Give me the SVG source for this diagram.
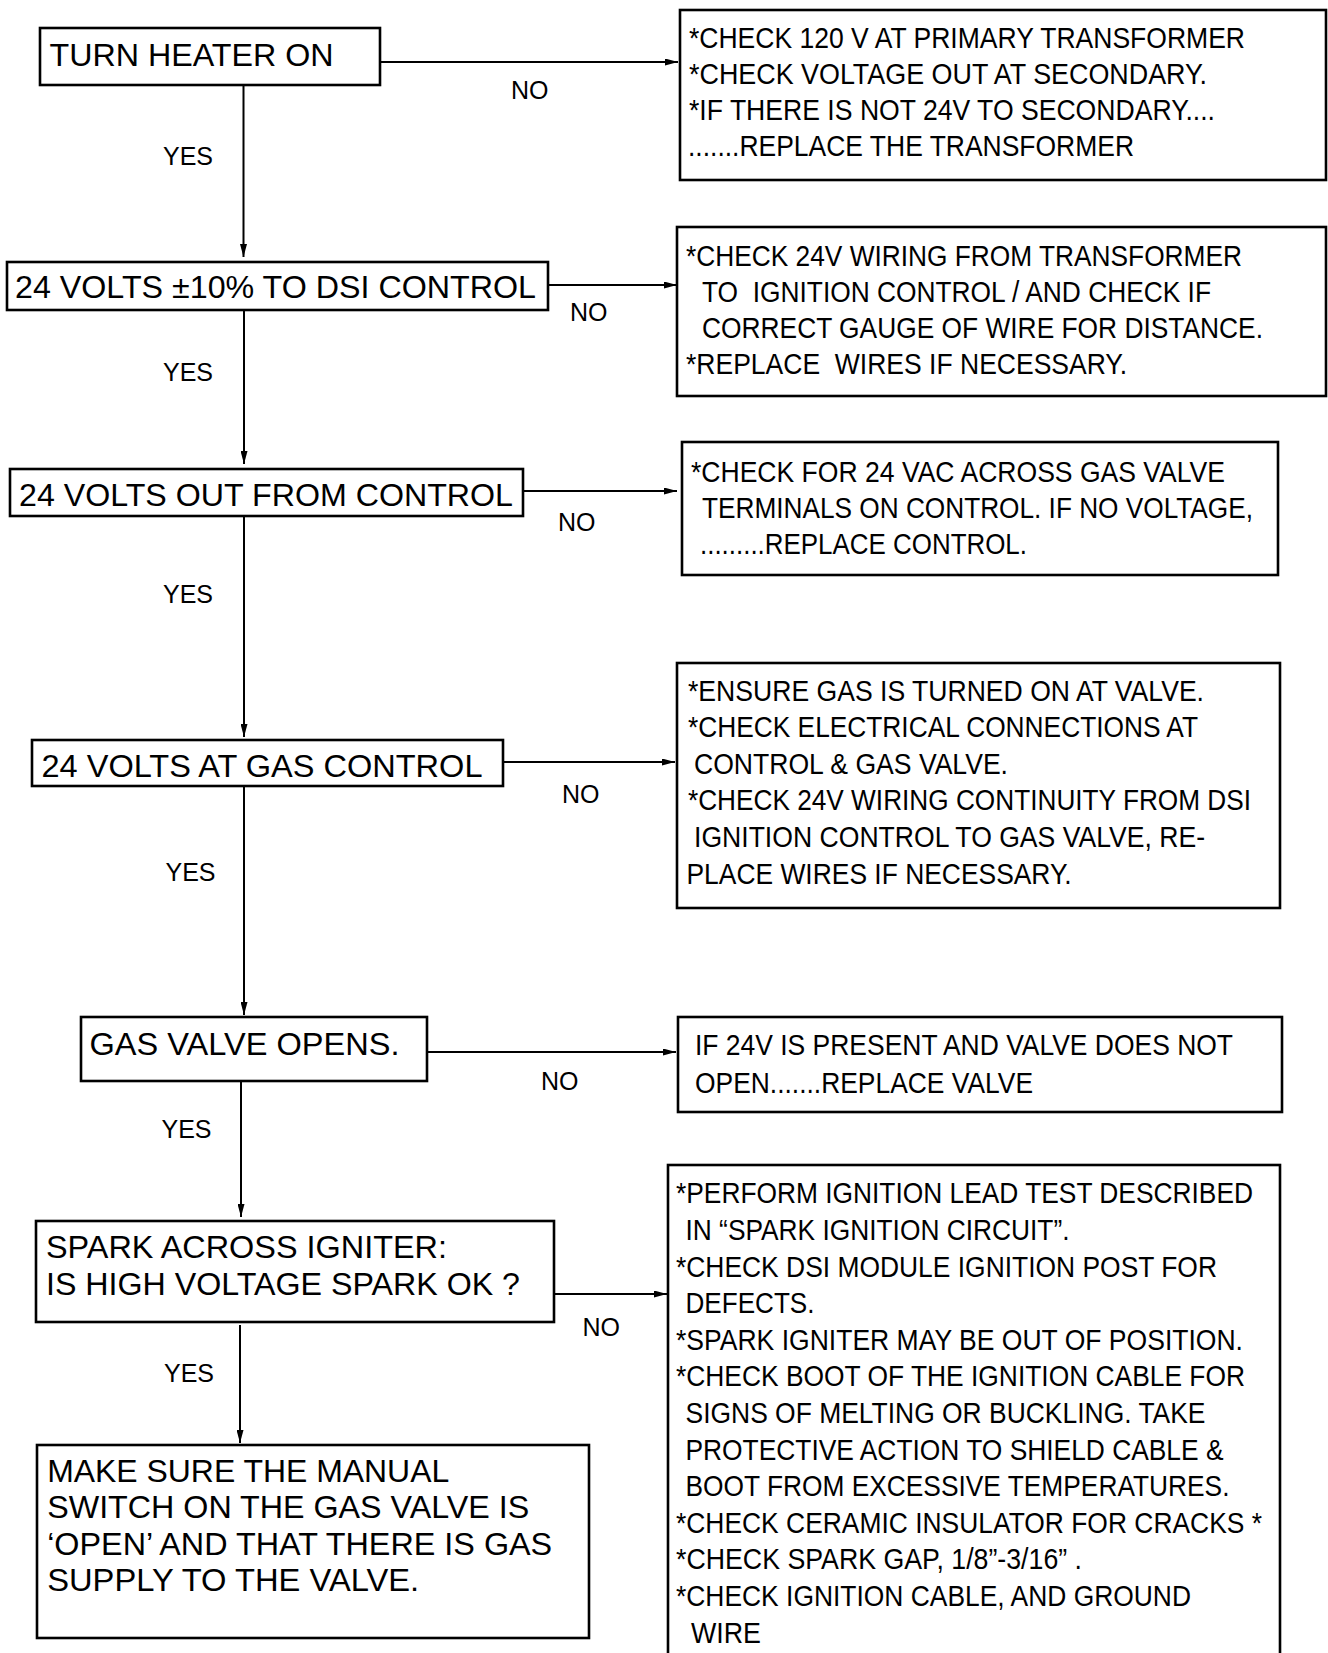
<svg xmlns="http://www.w3.org/2000/svg" width="1328" height="1653" viewBox="0 0 1328 1653">
<defs>
<marker id="ah" markerUnits="userSpaceOnUse" markerWidth="13" markerHeight="7" refX="13" refY="3.5" orient="auto">
<path d="M0,0 L13,3.5 L0,7 z" fill="#000"/>
</marker>
<style>
rect{fill:#fff;stroke:#000;stroke-width:2.6}
text{font-family:"Liberation Sans",Arial,sans-serif;fill:#000}
.m{font-size:30.5px}
.r{font-size:30px}
.l{font-size:25px}
#connectors line{stroke:#000;stroke-width:2;marker-end:url(#ah)}
</style>
</defs>
<rect x="0" y="0" width="1328" height="1653" style="fill:#fff;stroke:none"/>
<g id="connectors">
<line x1="243.5" y1="85" x2="243.5" y2="257"/>
<line x1="380" y1="62" x2="678" y2="62"/>
<line x1="244" y1="310" x2="244" y2="464"/>
<line x1="548" y1="285" x2="677" y2="285"/>
<line x1="244" y1="516" x2="244" y2="737"/>
<line x1="523" y1="491" x2="677" y2="491"/>
<line x1="244" y1="786" x2="244" y2="1015"/>
<line x1="503" y1="762" x2="675" y2="762"/>
<line x1="241" y1="1081" x2="241" y2="1217"/>
<line x1="427" y1="1052" x2="676" y2="1052"/>
<line x1="554" y1="1294" x2="667" y2="1294"/>
<line x1="240" y1="1325" x2="240" y2="1443"/>
<text class="l" x="511" y="99">NO</text>
<text class="l" x="163" y="165">YES</text>
<text class="l" x="570" y="321">NO</text>
<text class="l" x="163" y="381">YES</text>
<text class="l" x="558" y="531">NO</text>
<text class="l" x="163" y="603">YES</text>
<text class="l" x="562" y="803">NO</text>
<text class="l" x="165.5" y="881">YES</text>
<text class="l" x="541" y="1090">NO</text>
<text class="l" x="161.5" y="1138">YES</text>
<text class="l" x="582.5" y="1336">NO</text>
<text class="l" x="164" y="1381.5">YES</text>
</g>
<g id="n1">
<rect x="40" y="28" width="340" height="57"/>
<text class="m" x="49.5" y="66" textLength="284" lengthAdjust="spacingAndGlyphs">TURN HEATER ON</text>
</g>
<g id="n2">
<rect x="7" y="262" width="541" height="48"/>
<text class="m" x="15" y="298" textLength="521" lengthAdjust="spacingAndGlyphs">24 VOLTS ±10% TO DSI CONTROL</text>
</g>
<g id="n3">
<rect x="10" y="469" width="513" height="47"/>
<text class="m" x="19" y="506" textLength="494" lengthAdjust="spacingAndGlyphs">24 VOLTS OUT FROM CONTROL</text>
</g>
<g id="n4">
<rect x="32" y="740" width="471" height="46"/>
<text class="m" x="41.5" y="777" textLength="441" lengthAdjust="spacingAndGlyphs">24 VOLTS AT GAS CONTROL</text>
</g>
<g id="n5">
<rect x="81" y="1017" width="346" height="64"/>
<text class="m" x="89.5" y="1055" textLength="310" lengthAdjust="spacingAndGlyphs">GAS VALVE OPENS.</text>
</g>
<g id="n6">
<rect x="36" y="1221" width="518" height="101"/>
<text class="m" x="46" y="1258" textLength="401" lengthAdjust="spacingAndGlyphs">SPARK ACROSS IGNITER:</text>
<text class="m" x="46" y="1295" textLength="474" lengthAdjust="spacingAndGlyphs">IS HIGH VOLTAGE SPARK OK ?</text>
</g>
<g id="n7">
<rect x="37" y="1445" width="552" height="193"/>
<text class="m" x="47.2" y="1481.5" textLength="402" lengthAdjust="spacingAndGlyphs">MAKE SURE THE MANUAL</text>
<text class="m" x="47.2" y="1518" textLength="482" lengthAdjust="spacingAndGlyphs">SWITCH ON THE GAS VALVE IS</text>
<text class="m" x="47.2" y="1554.5" textLength="505" lengthAdjust="spacingAndGlyphs">‘OPEN’ AND THAT THERE IS GAS</text>
<text class="m" x="47.2" y="1591" textLength="372" lengthAdjust="spacingAndGlyphs">SUPPLY TO THE VALVE.</text>
</g>
<g id="r1">
<rect x="680" y="10" width="646" height="170"/>
<text class="r" x="689" y="48" textLength="556" lengthAdjust="spacingAndGlyphs">*CHECK 120 V AT PRIMARY TRANSFORMER</text>
<text class="r" x="689" y="84" textLength="518" lengthAdjust="spacingAndGlyphs">*CHECK VOLTAGE OUT AT SECONDARY.</text>
<text class="r" x="689" y="120" textLength="526" lengthAdjust="spacingAndGlyphs">*IF THERE IS NOT 24V TO SECONDARY....</text>
<text class="r" x="688" y="156" textLength="446" lengthAdjust="spacingAndGlyphs">.......REPLACE THE TRANSFORMER</text>
</g>
<g id="r2">
<rect x="677" y="227" width="649" height="169"/>
<text class="r" x="686" y="266" textLength="556" lengthAdjust="spacingAndGlyphs">*CHECK 24V WIRING FROM TRANSFORMER</text>
<text class="r" x="702" y="302" textLength="509" lengthAdjust="spacingAndGlyphs" xml:space="preserve">TO  IGNITION CONTROL / AND CHECK IF</text>
<text class="r" x="702" y="338" textLength="561" lengthAdjust="spacingAndGlyphs">CORRECT GAUGE OF WIRE FOR DISTANCE.</text>
<text class="r" x="686" y="374" textLength="441" lengthAdjust="spacingAndGlyphs" xml:space="preserve">*REPLACE  WIRES IF NECESSARY.</text>
</g>
<g id="r3">
<rect x="682" y="442" width="596" height="133"/>
<text class="r" x="691" y="482" textLength="534" lengthAdjust="spacingAndGlyphs">*CHECK FOR 24 VAC ACROSS GAS VALVE</text>
<text class="r" x="702" y="518" textLength="551" lengthAdjust="spacingAndGlyphs">TERMINALS ON CONTROL. IF NO VOLTAGE,</text>
<text class="r" x="700" y="554" textLength="327" lengthAdjust="spacingAndGlyphs">.........REPLACE CONTROL.</text>
</g>
<g id="r4">
<rect x="677" y="663" width="603" height="245"/>
<text class="r" x="688" y="700.5" textLength="516" lengthAdjust="spacingAndGlyphs">*ENSURE GAS IS TURNED ON AT VALVE.</text>
<text class="r" x="688" y="737" textLength="510" lengthAdjust="spacingAndGlyphs">*CHECK ELECTRICAL CONNECTIONS AT</text>
<text class="r" x="694" y="773.7" textLength="314" lengthAdjust="spacingAndGlyphs">CONTROL &amp; GAS VALVE.</text>
<text class="r" x="688" y="810.3" textLength="563" lengthAdjust="spacingAndGlyphs">*CHECK 24V WIRING CONTINUITY FROM DSI</text>
<text class="r" x="694" y="847" textLength="511" lengthAdjust="spacingAndGlyphs">IGNITION CONTROL TO GAS VALVE, RE-</text>
<text class="r" x="686.5" y="883.5" textLength="385" lengthAdjust="spacingAndGlyphs">PLACE WIRES IF NECESSARY.</text>
</g>
<g id="r5">
<rect x="678" y="1017" width="604" height="95"/>
<text class="r" x="695" y="1055" textLength="538" lengthAdjust="spacingAndGlyphs">IF 24V IS PRESENT AND VALVE DOES NOT</text>
<text class="r" x="695" y="1092.5" textLength="338" lengthAdjust="spacingAndGlyphs">OPEN.......REPLACE VALVE</text>
</g>
<g id="r6">
<rect x="668" y="1165" width="612" height="500"/>
<text class="r" x="676" y="1203.3" textLength="577" lengthAdjust="spacingAndGlyphs">*PERFORM IGNITION LEAD TEST DESCRIBED</text>
<text class="r" x="685.5" y="1239.9" textLength="384" lengthAdjust="spacingAndGlyphs">IN “SPARK IGNITION CIRCUIT”.</text>
<text class="r" x="676" y="1276.5" textLength="541" lengthAdjust="spacingAndGlyphs">*CHECK DSI MODULE IGNITION POST FOR</text>
<text class="r" x="685.5" y="1313.1" textLength="129" lengthAdjust="spacingAndGlyphs">DEFECTS.</text>
<text class="r" x="676" y="1349.7" textLength="567" lengthAdjust="spacingAndGlyphs">*SPARK IGNITER MAY BE OUT OF POSITION.</text>
<text class="r" x="676" y="1386.3" textLength="569" lengthAdjust="spacingAndGlyphs">*CHECK BOOT OF THE IGNITION CABLE FOR</text>
<text class="r" x="685.5" y="1422.9" textLength="520" lengthAdjust="spacingAndGlyphs">SIGNS OF MELTING OR BUCKLING. TAKE</text>
<text class="r" x="685.5" y="1459.5" textLength="538" lengthAdjust="spacingAndGlyphs">PROTECTIVE ACTION TO SHIELD CABLE &amp;</text>
<text class="r" x="685.5" y="1496.1" textLength="544" lengthAdjust="spacingAndGlyphs">BOOT FROM EXCESSIVE TEMPERATURES.</text>
<text class="r" x="676" y="1532.7" textLength="586" lengthAdjust="spacingAndGlyphs">*CHECK CERAMIC INSULATOR FOR CRACKS *</text>
<text class="r" x="676" y="1569.3" textLength="406" lengthAdjust="spacingAndGlyphs">*CHECK SPARK GAP, 1/8”-3/16” .</text>
<text class="r" x="676" y="1605.9" textLength="515" lengthAdjust="spacingAndGlyphs">*CHECK IGNITION CABLE, AND GROUND</text>
<text class="r" x="691" y="1642.5" textLength="70" lengthAdjust="spacingAndGlyphs">WIRE</text>
</g>
</svg>
